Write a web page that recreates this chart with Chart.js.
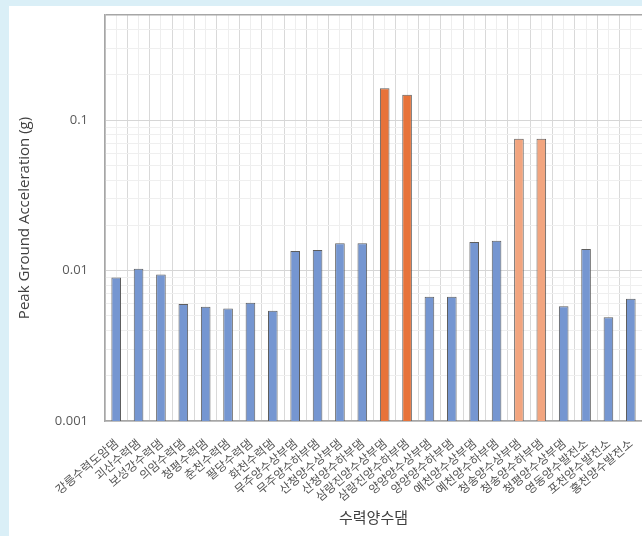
<!DOCTYPE html>
<html lang="ko">
<head>
<meta charset="utf-8">
<title>수력양수댐 Peak Ground Acceleration</title>
<script src="https://cdn.jsdelivr.net/npm/chart.js@4/dist/chart.umd.min.js"></script>
<style>
  html, body { margin: 0; padding: 0; }
  body { width: 642px; height: 536px; background: #daeff7; position: relative; overflow: hidden; }
  #panel { position: absolute; left: 9px; top: 6px; width: 633px; height: 530px; background: #ffffff; }
  canvas { display: block; }
</style>
</head>
<body>
<div id="panel"><canvas id="pga" width="633" height="530"></canvas></div>
<script>
// Dams and pumped-storage plants
const categories = [
  '강릉수력도암댐', '괴산수력댐', '보성강수력댐', '의암수력댐', '청평수력댐', '춘천수력댐',
  '팔당수력댐', '화천수력댐', '무주양수상부댐', '무주양수하부댐', '산청양수상부댐', '산청양수하부댐',
  '삼랑진양수상부댐', '삼랑진양수하부댐', '양양양수상부댐', '양양양수하부댐', '예천양수상부댐', '예천양수하부댐',
  '청송양수상부댐', '청송양수하부댐', '청평양수상부댐', '영동양수발전소', '포천양수발전소', '홍천양수발전소'
];

// Peak ground acceleration (g)
const pga = [
  0.0090, 0.0103, 0.0094, 0.0060, 0.00575, 0.0056,
  0.0061, 0.0054, 0.0135, 0.0137, 0.0152, 0.0152,
  0.163, 0.1475, 0.0067, 0.0067, 0.0155, 0.0158,
  0.0751, 0.0751, 0.0058, 0.0139, 0.0049, 0.0065
];

// Labelled decades on the log axis
const yTickLabels = ['0.001', '0.01', '0.1'];
const yMin = 0.001;
const yMax = 0.5;

const BLUE = '#7596d1';
const ORANGE = '#e7733a';
const LIGHT_ORANGE = '#f2a57f';

function barColor(ctx) {
  const name = categories[ctx.dataIndex] || '';
  if (name.startsWith('삼랑진')) return ORANGE;
  if (name.startsWith('청송')) return LIGHT_ORANGE;
  return BLUE;
}

function isDecade(v) {
  const e = Math.log10(v);
  return Math.abs(e - Math.round(e)) < 1e-9;
}

new Chart(document.getElementById('pga'), {
  type: 'bar',
  data: {
    labels: categories,
    datasets: [{
      data: pga,
      backgroundColor: barColor,
      borderColor: '#5e5e5e',
      borderWidth: 1,
      categoryPercentage: 1,
      barPercentage: 0.43
    }]
  },
  options: {
    responsive: false,
    animation: false,
    devicePixelRatio: 1,
    layout: { padding: { top: 9, right: 0, bottom: 0, left: 0 } },
    plugins: { legend: { display: false }, tooltip: { enabled: false } },
    scales: {
      x: {
        type: 'category',
        offset: true,
        grid: { offset: true, color: '#d9d9d9', lineWidth: 1, drawTicks: false },
        border: { display: true, color: '#a6a6a6', width: 1.5 },
        ticks: {
          autoSkip: false,
          minRotation: 40,
          maxRotation: 40,
          padding: 15,
          color: '#555555',
          font: { family: '"Noto Sans CJK KR", "Noto Sans", sans-serif', size: 12 }
        },
        title: {
          display: true,
          text: '수력양수댐',
          color: '#404040',
          font: { family: '"Noto Sans CJK KR", sans-serif', size: 15 },
          padding: { top: 0, bottom: 10 }
        },
        afterFit(scale) {
          scale.height = 115;
          scale.paddingLeft = 0;
          scale.paddingRight = 0;
        }
      },
      xc: {
        type: 'category',
        position: 'bottom',
        offset: true,
        labels: categories,
        grid: { offset: false, color: '#eeeeee', lineWidth: 1, drawTicks: false },
        border: { display: false },
        ticks: { display: false },
        afterFit(scale) {
          scale.height = 0;
          scale.paddingLeft = 0;
          scale.paddingRight = 0;
        }
      },
      y: {
        type: 'logarithmic',
        min: yMin,
        max: yMax,
        afterBuildTicks(scale) {
          const ticks = [];
          for (let e = Math.round(Math.log10(yMin)); Math.pow(10, e) < yMax; e++) {
            for (let k = 1; k <= 9; k++) {
              const v = parseFloat(k + 'e' + e);
              if (v < yMax) ticks.push({ value: v });
            }
          }
          ticks.push({ value: yMax });
          scale.ticks = ticks;
        },
        grid: {
          drawTicks: false,
          lineWidth: ctx => (ctx.tick && ctx.tick.value === yMax ? 1.5 : 1),
          color: ctx => {
            const v = ctx.tick ? ctx.tick.value : 0;
            if (v === yMax) return '#a6a6a6';
            return isDecade(v) ? '#d6d6d6' : '#efefef';
          }
        },
        border: { display: true, color: '#a6a6a6', width: 1.5 },
        ticks: {
          autoSkip: false,
          padding: 17,
          color: '#595959',
          font: { family: '"Open Sans", sans-serif', size: 13 },
          callback(value) {
            if (!isDecade(value)) return '';
            const label = yTickLabels.find(t => Math.abs(parseFloat(t) - value) < value * 1e-6);
            return label || '';
          }
        },
        title: {
          display: true,
          text: 'Peak Ground Acceleration (g)',
          color: '#404040',
          font: { family: '"Open Sans", sans-serif', size: 15 },
          padding: { top: 7, bottom: 0 }
        },
        afterFit(scale) {
          scale.width = 96;
          scale.paddingTop = 0;
          scale.paddingBottom = 0;
        }
      }
    }
  }
});
</script>
</body>
</html>
